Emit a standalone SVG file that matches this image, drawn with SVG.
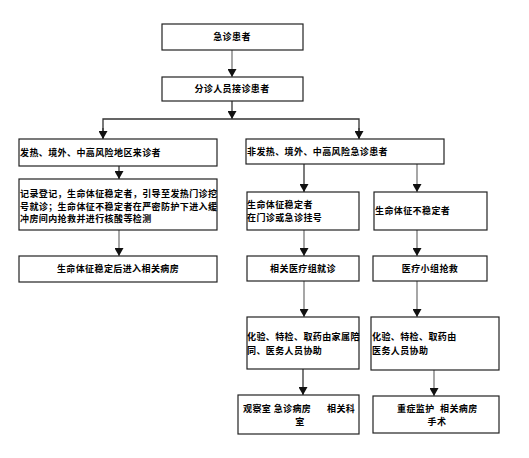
<svg xmlns="http://www.w3.org/2000/svg" width="529" height="458" viewBox="0 0 529 458">
<style>
.box{fill:#fff;stroke:#222;stroke-width:1.2}
.t{font-family:"Noto Sans CJK SC","Noto Sans",sans-serif;font-size:9px;font-weight:bold;fill:#000;letter-spacing:0.4px}
.c{text-anchor:middle}
.ln{fill:none;stroke:#333;stroke-width:1.3}
.lg{fill:none;stroke:#777;stroke-width:1.3}
</style>
<defs>
<marker id="ah" viewBox="0 0 8 9" refX="8" refY="4.5" markerWidth="8" markerHeight="9" markerUnits="userSpaceOnUse" orient="auto">
<path d="M0,0 L8,4.5 L0,9 z" fill="#111"/>
</marker>
</defs>
<rect width="529" height="458" fill="#fff"/>
<g id="connectors">
<line class="lg" x1="232" y1="50" x2="232" y2="77" marker-end="url(#ah)"/>
<line class="ln" x1="232" y1="101" x2="232" y2="119" marker-end="url(#ah)"/>
<polyline class="ln" points="103,138 103,119 359,119 359,138"/>
<line class="ln" x1="103" y1="128" x2="103" y2="139" marker-end="url(#ah)"/>
<line class="ln" x1="359" y1="128" x2="359" y2="139" marker-end="url(#ah)"/>
<line class="ln" x1="119" y1="166" x2="119" y2="179" marker-end="url(#ah)"/>
<line class="lg" x1="119" y1="230" x2="119" y2="256" marker-end="url(#ah)"/>
<line class="ln" x1="304" y1="164" x2="304" y2="192" marker-end="url(#ah)"/>
<line class="lg" x1="417" y1="164" x2="417" y2="192" marker-end="url(#ah)"/>
<line class="lg" x1="304" y1="230" x2="304" y2="256" marker-end="url(#ah)"/>
<line class="lg" x1="417" y1="230" x2="417" y2="256" marker-end="url(#ah)"/>
<line class="lg" x1="304" y1="281" x2="304" y2="317" marker-end="url(#ah)"/>
<line class="lg" x1="417" y1="281" x2="417" y2="317" marker-end="url(#ah)"/>
<line class="ln" x1="303" y1="369" x2="303" y2="395" marker-end="url(#ah)"/>
<line class="lg" x1="434" y1="370" x2="434" y2="396" marker-end="url(#ah)"/>
</g>
<g id="n1"><rect class="box" x="162" y="24" width="141" height="26"/><text class="t c" x="232" y="40">急诊患者</text></g>
<g id="n2"><rect class="box" x="162" y="77" width="141" height="24"/><text class="t c" x="232" y="92">分诊人员接诊患者</text></g>
<g id="n3"><rect class="box" x="19" y="139" width="198" height="27"/><text class="t" x="20" y="156">发热、境外、中高风险地区来诊者</text></g>
<g id="n4"><rect class="box" x="19" y="179" width="198" height="51"/>
<text class="t" x="20" y="197">记录登记，生命体征稳定者，引导至发热门诊挖</text>
<text class="t" x="20" y="210">号就诊；生命体征不稳定者在严密防护下进入缓</text>
<text class="t" x="20" y="222">冲房间内抢救并进行核酸等检测</text></g>
<g id="n5"><rect class="box" x="19" y="256" width="198" height="26"/><text class="t c" x="118" y="272">生命体征稳定后进入相关病房</text></g>
<g id="n6"><rect class="box" x="246" y="139" width="198" height="25"/><text class="t" x="247" y="155">非发热、境外、中高风险急诊患者</text></g>
<g id="n7"><rect class="box" x="247" y="192" width="112" height="38"/>
<text class="t" x="247" y="208">生命体征稳定者</text>
<text class="t" x="247" y="221">在门诊或急诊挂号</text></g>
<g id="n8"><rect class="box" x="374" y="192" width="113" height="38"/><text class="t" x="375" y="214">生命体征不稳定者</text></g>
<g id="n9"><rect class="box" x="247" y="256" width="112" height="25"/><text class="t c" x="303" y="272">相关医疗组就诊</text></g>
<g id="n10"><rect class="box" x="373" y="256" width="114" height="25"/><text class="t c" x="430" y="272">医疗小组抢救</text></g>
<g id="n11"><rect class="box" x="247" y="317" width="112" height="52"/>
<text class="t" x="247" y="340">化验、特检、取药由家属陪</text>
<text class="t" x="247" y="354">同、医务人员协助</text></g>
<g id="n12"><rect class="box" x="371" y="317" width="128" height="53"/>
<text class="t" x="372" y="340">化验、特检、取药由</text>
<text class="t" x="372" y="354">医务人员协助</text></g>
<g id="n13"><rect class="box" x="238" y="395" width="121" height="39"/>
<text class="t" x="243" y="412">观察室 急诊病房</text>
<text class="t" x="327" y="412">相关科</text>
<text class="t c" x="300" y="425">室</text></g>
<g id="n14"><rect class="box" x="373" y="396" width="126" height="37"/>
<text class="t" x="397" y="412">重症监护</text>
<text class="t" x="440" y="412">相关病房</text>
<text class="t c" x="437" y="425">手术</text></g>
</svg>
